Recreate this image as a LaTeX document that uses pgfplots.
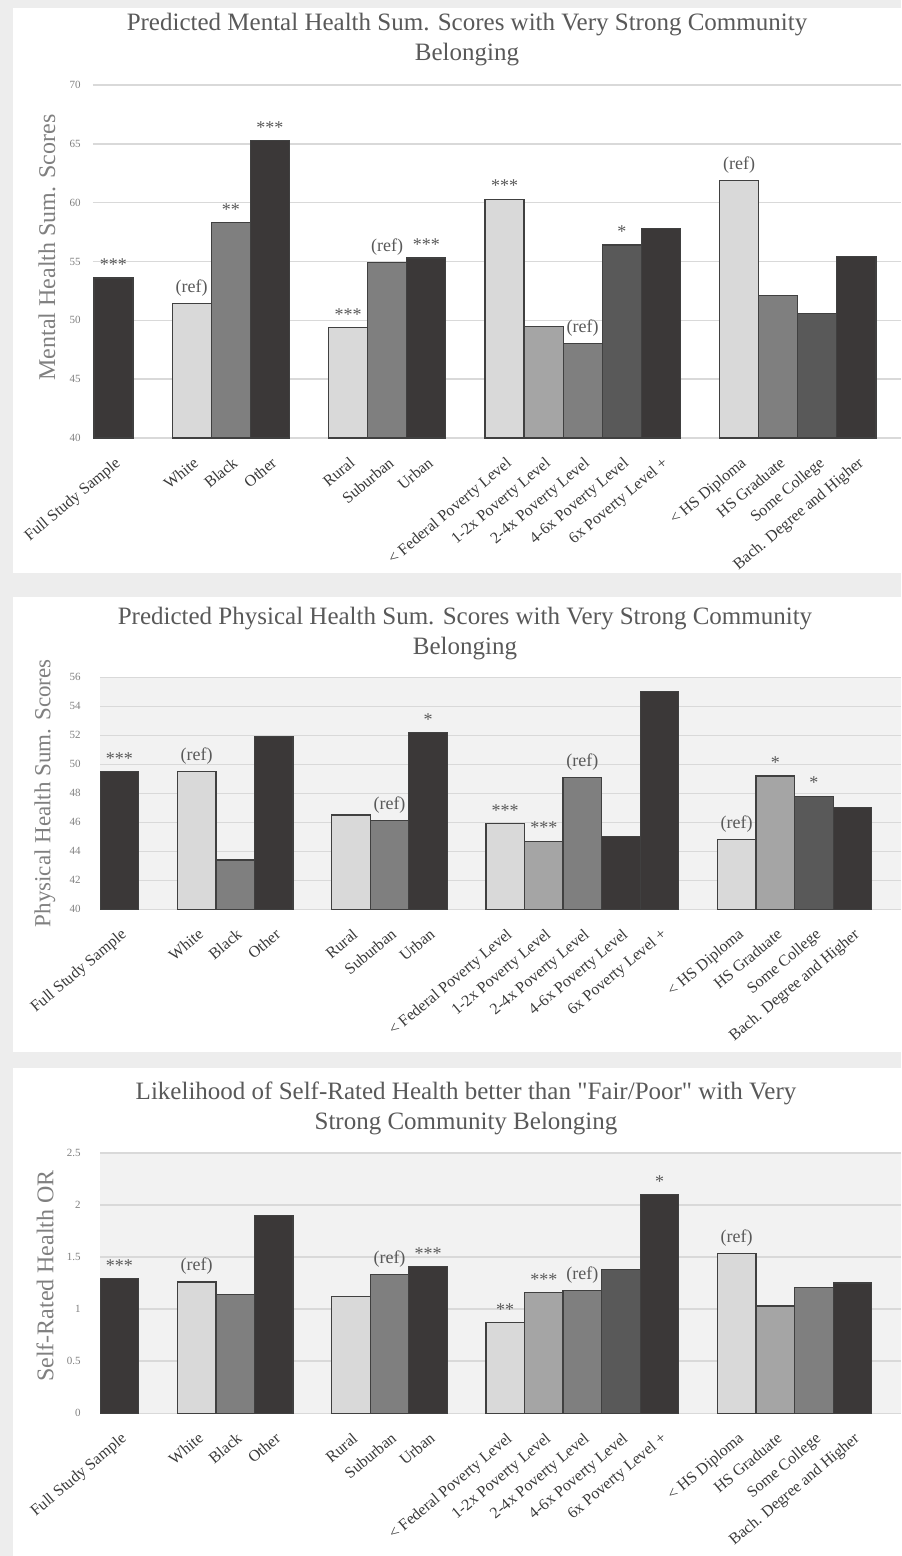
\documentclass[border=0pt]{standalone}
\usepackage{fontspec}
\setmainfont{Liberation Serif}
\usepackage{pgfplots}
\pgfplotsset{compat=1.18}
\newcommand{\sq}{\XeTeXglyph\XeTeXcharglyph"22\relax}
\definecolor{cA}{HTML}{D9D9D9}
\definecolor{cB}{HTML}{A5A5A5}
\definecolor{cC}{HTML}{7F7F7F}
\definecolor{cD}{HTML}{595959}
\definecolor{cE}{HTML}{3B3838}
\definecolor{pagebg}{HTML}{EDEDED}
\definecolor{plotbg}{HTML}{F2F2F2}
\definecolor{gridc}{HTML}{D9D9D9}
\definecolor{titlec}{HTML}{595959}
\definecolor{ylabc}{HTML}{808080}
\definecolor{xlabc}{HTML}{3A3A3A}
\definecolor{annc}{HTML}{595959}
\pgfplotsset{
  b/.style={fill=#1, draw=black!75, line width=0.6pt, bar shift=0pt},
  base/.style={
    scale only axis, ybar, bar shift=0pt, bar width=1,
    axis line style={draw=none}, major tick length=0pt,
    ymajorgrids, major grid style={draw=gridc, line width=0.8pt},
    xtick={0,2,3,4,6,7,8,10,11,12,13,14,16,17,18,19},
    xticklabels={Full Study Sample, White, Black, Other, Rural, Suburban, Urban,
      {< Federal Poverty Level}, {1-2x Poverty Level}, {2-4x Poverty Level},
      {4-6x Poverty Level}, {6x Poverty Level +}, {< HS Diploma}, HS Graduate,
      Some College, {Bach. Degree and Higher}},
    xticklabel style={rotate=40, anchor=north east, inner sep=1pt, xshift=-4.5pt, yshift=-6pt,
      font=\fontsize{8}{9}\selectfont, text=xlabc},
    yticklabel style={font=\fontsize{5.5}{6}\selectfont, text=ylabc, inner sep=0pt, anchor=east},
    /pgf/number format/assume math mode=true,
    ylabel style={font=\fontsize{12}{14}\selectfont, text=ylabc, anchor=center},
    nodes near coords, point meta=explicit symbolic,
    every node near coord/.append style={font=\fontsize{9}{10}\selectfont, text=annc, anchor=south},
    enlargelimits=false,
  },
}
\begin{document}
\begin{tikzpicture}
\useasboundingbox (0,0) rectangle (450.5pt,-778pt);
\fill[pagebg] (0,0) rectangle (450.5pt,-778pt);
\fill[white] (6.5pt,-4pt) rectangle (450.5pt,-286.5pt);
\fill[white] (6.5pt,-298.5pt) rectangle (450.5pt,-526pt);
\fill[white] (6.5pt,-534pt) rectangle (450.5pt,-778pt);

\node[align=center, font=\fontsize{12.5}{15}\selectfont, text=titlec] at (233.5pt,-20pt)
  {Predicted Mental Health Sum. Scores with Very Strong Community\\Belonging};
\node[align=center, font=\fontsize{12.5}{15}\selectfont, text=titlec] at (232.5pt,-317pt)
  {Predicted Physical Health Sum. Scores with Very Strong Community\\Belonging};
\node[align=center, font=\fontsize{12.5}{15}\selectfont, text=titlec] at (233pt,-554pt)
  {Likelihood of Self-Rated Health better than \sq Fair/Poor\sq{} with Very\\Strong Community Belonging};

% Panel 1
\begin{axis}[base, at={(46.5pt,-219pt)}, anchor=south west, width=404pt, height=176.5pt,
  xmin=-0.524, xmax=20.14, ymin=40, ymax=70, ytick={40,45,50,55,60,65,70},
  ylabel={Mental Health Sum. Scores},
  ylabel style={at={(axis description cs:-0.057,0.54)}},
  yticklabel style={xshift=-6pt}]
\addplot[b=cE] coordinates {(0,53.6)[***] (4,65.3)[***] (8,55.3)[***] (14,57.8)[] (19,55.4)[]};
\addplot[b=cA] coordinates {(2,51.4)[(ref)] (6,49.4)[***] (10,60.3)[***] (16,61.9)[(ref)]};
\addplot[b=cC] coordinates {(3,58.3)[**] (7,54.9)[(ref)] (12,48.0)[(ref)] (17,52.1)[]};
\addplot[b=cB] coordinates {(11,49.5)[]};
\addplot[b=cD] coordinates {(13,56.4)[*] (18,50.6)[]};
\end{axis}

% Panel 2
\begin{axis}[base, at={(50pt,-454.65pt)}, anchor=south west, width=400.5pt, height=116pt,
  axis background/.style={fill=plotbg},
  xmin=-0.505, xmax=20.26, ymin=40, ymax=56, ytick={40,42,44,46,48,50,52,54,56},
  ylabel={Physical Health Sum. Scores},
  ylabel style={at={(axis description cs:-0.0687,0.5)}, font=\fontsize{11.5}{13}\selectfont},
  yticklabel style={xshift=-9.5pt}]
\addplot[b=cE] coordinates {(0,49.5)[***] (4,51.9)[] (8,52.2)[*] (13,45.0)[] (14,55.0)[] (19,47.0)[]};
\addplot[b=cA] coordinates {(2,49.5)[(ref)] (6,46.5)[] (10,45.9)[***] (16,44.8)[(ref)]};
\addplot[b=cC] coordinates {(3,43.4)[] (7,46.1)[(ref)] (12,49.1)[(ref)]};
\addplot[b=cB] coordinates {(11,44.7)[***] (17,49.2)[*]};
\addplot[b=cD] coordinates {(18,47.8)[*]};
\end{axis}

% Panel 3
\begin{axis}[base, at={(50pt,-706.65pt)}, anchor=south west, width=400.5pt, height=130.3pt,
  axis background/.style={fill=plotbg},
  xmin=-0.505, xmax=20.26, ymin=0, ymax=2.5, ytick={0,0.5,1,1.5,2,2.5},
  ylabel={Self-Rated Health OR},
  ylabel style={at={(axis description cs:-0.0687,0.527)}},
  yticklabel style={xshift=-9.5pt}]
\addplot[b=cE] coordinates {(0,1.29)[***] (4,1.90)[] (8,1.41)[***] (14,2.10)[*] (19,1.25)[]};
\addplot[b=cA] coordinates {(2,1.26)[(ref)] (6,1.12)[] (10,0.87)[**] (16,1.53)[(ref)]};
\addplot[b=cC] coordinates {(3,1.14)[] (7,1.33)[(ref)] (12,1.18)[(ref)] (18,1.21)[]};
\addplot[b=cB] coordinates {(11,1.16)[***] (17,1.03)[]};
\addplot[b=cD] coordinates {(13,1.38)[]};
\end{axis}
\end{tikzpicture}
\end{document}
